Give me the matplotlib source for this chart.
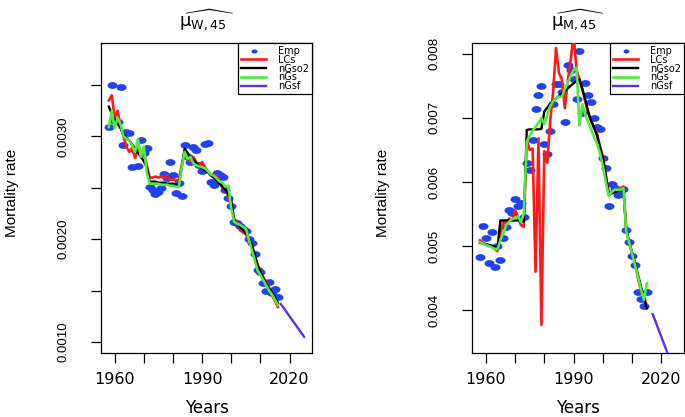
import numpy as np
import matplotlib
matplotlib.use('Agg')
import matplotlib.pyplot as plt
from matplotlib.path import Path

# ---------------- data: women, age 45 ----------------
years_w = list(range(1958, 2017))
emp_w = [0.00309, 0.00350, 0.00315, 0.00314, 0.00348, 0.00292, 0.00304, 0.00303, 0.00270, 0.00287,
         0.00271, 0.00297, 0.00284, 0.00289, 0.00251, 0.00248, 0.00244, 0.00246, 0.00250, 0.00263,
         0.00260, 0.00275, 0.00262, 0.00245, 0.00255, 0.00242, 0.00292, 0.00280, 0.00275, 0.00290,
         0.00287, 0.00272, 0.00266, 0.00293, 0.00294, 0.00256, 0.00253, 0.00264, 0.00262, 0.00261,
         0.00248, 0.00240, 0.00232, 0.00217, 0.00216, 0.00213, 0.00210, 0.00208, 0.00200, 0.00196,
         0.00186, 0.00170, 0.00168, 0.00157, 0.00150, 0.00158, 0.00148, 0.00152, 0.00144]
lcs_w = [0.00335, 0.00340, 0.00318, 0.00325, 0.00310, 0.00300, 0.00290, 0.00285, 0.00289, 0.00279,
         0.00288, 0.00280, 0.00283, 0.00272, 0.00260, 0.00260, 0.00261, 0.00260, 0.00261, 0.00259,
         0.00262, 0.00258, 0.00258, 0.00257, 0.00258, 0.00272, 0.00285, 0.00279, 0.00276, 0.00280,
         0.00275, 0.00272, 0.00275, 0.00270, 0.00266, 0.00263, 0.00260, 0.00262, 0.00256, 0.00250,
         0.00248, 0.00242, 0.00232, 0.00220, 0.00216, 0.00210, 0.00207, 0.00205, 0.00199, 0.00193,
         0.00184, 0.00176, 0.00168, 0.00163, 0.00158, 0.00153, 0.00145, 0.00140, 0.00134]
ngso2_w = [0.00329, 0.00322, 0.00316, 0.00313, 0.00308, 0.00302, 0.00299, 0.00296, 0.00292, 0.00288,
           0.00284, 0.00280, 0.00276, 0.00270, 0.00256, 0.00256, 0.00256, 0.00255, 0.00255, 0.00255,
           0.00254, 0.00254, 0.00254, 0.00253, 0.00253, 0.00270, 0.00288, 0.00284, 0.00280, 0.00277,
           0.00274, 0.00271, 0.00269, 0.00267, 0.00265, 0.00262, 0.00260, 0.00257, 0.00254, 0.00251,
           0.00248, 0.00244, 0.00238, 0.00218, 0.00215, 0.00212, 0.00209, 0.00206, 0.00201, 0.00195,
           0.00186, 0.00175, 0.00168, 0.00162, 0.00157, 0.00152, 0.00148, 0.00143, 0.00138]
ngs_w = [0.00309, 0.00325, 0.00308, 0.00318, 0.00312, 0.00300, 0.00298, 0.00296, 0.00291, 0.00285,
         0.00297, 0.00280, 0.00290, 0.00265, 0.00254, 0.00254, 0.00254, 0.00254, 0.00253, 0.00253,
         0.00253, 0.00252, 0.00252, 0.00251, 0.00251, 0.00270, 0.00285, 0.00278, 0.00280, 0.00274,
         0.00272, 0.00271, 0.00270, 0.00269, 0.00266, 0.00263, 0.00262, 0.00259, 0.00256, 0.00255,
         0.00251, 0.00252, 0.00230, 0.00217, 0.00215, 0.00214, 0.00212, 0.00210, 0.00200, 0.00190,
         0.00180, 0.00170, 0.00165, 0.00160, 0.00155, 0.00150, 0.00146, 0.00141, 0.00136]
years_f_w = list(range(2017, 2026))
ngsf_w = [0.00137, 0.00133, 0.00129, 0.00125, 0.00121, 0.00117, 0.00113, 0.00109, 0.00105]

# ---------------- data: men, age 45 ----------------
years_m = list(range(1958, 2016))
emp_m = [0.00483, 0.00532, 0.00512, 0.00473, 0.00522, 0.00468, 0.00500, 0.00479, 0.00512, 0.00530,
         0.00557, 0.00552, 0.00573, 0.00562, 0.00567, 0.00545, 0.00629, 0.00619, 0.00665, 0.00714,
         0.00736, 0.00749, 0.00659, 0.00644, 0.00679, 0.00722, 0.00753, 0.00752, 0.00740, 0.00693,
         0.00783, 0.00775, 0.00760, 0.00730, 0.00805, 0.00707, 0.00755, 0.00735, 0.00724, 0.00700,
         0.00686, 0.00683, 0.00638, 0.00622, 0.00562, 0.00597, 0.00590, 0.00579, 0.00585, 0.00589,
         0.00525, 0.00507, 0.00484, 0.00470, 0.00429, 0.00417, 0.00406, 0.00429]
lcs_m = [0.00509, 0.00505, 0.00503, 0.00500, 0.00499, 0.00496, 0.00492, 0.00520, 0.00538, 0.00535,
         0.00543, 0.00540, 0.00556, 0.00545, 0.00533, 0.00530, 0.00666, 0.00650, 0.00652, 0.00460,
         0.00668, 0.00377, 0.00648, 0.00630, 0.00694, 0.00740, 0.00809, 0.00770, 0.00760, 0.00715,
         0.00757, 0.00790, 0.00830, 0.00775, 0.00760, 0.00744, 0.00725, 0.00707, 0.00695, 0.00685,
         0.00676, 0.00655, 0.00640, 0.00610, 0.00583, 0.00585, 0.00587, 0.00588, 0.00590, 0.00593,
         0.00525, 0.00505, 0.00488, 0.00473, 0.00450, 0.00430, 0.00419, 0.00408]
ngso2_m = [0.00505, 0.00504, 0.00503, 0.00502, 0.00501, 0.00499, 0.00497, 0.00540, 0.00540, 0.00540,
           0.00540, 0.00540, 0.00540, 0.00540, 0.00540, 0.00538, 0.00681, 0.00682, 0.00682, 0.00682,
           0.00682, 0.00683, 0.00710, 0.00716, 0.00722, 0.00726, 0.00730, 0.00734, 0.00738, 0.00742,
           0.00746, 0.00750, 0.00754, 0.00757, 0.00760, 0.00745, 0.00728, 0.00710, 0.00695, 0.00685,
           0.00672, 0.00655, 0.00637, 0.00610, 0.00580, 0.00582, 0.00584, 0.00586, 0.00588, 0.00585,
           0.00525, 0.00505, 0.00490, 0.00473, 0.00455, 0.00437, 0.00420, 0.00403]
ngs_m = [0.00506, 0.00504, 0.00502, 0.00500, 0.00498, 0.00496, 0.00495, 0.00510, 0.00520, 0.00533,
         0.00538, 0.00542, 0.00544, 0.00546, 0.00538, 0.00550, 0.00663, 0.00672, 0.00680, 0.00686,
         0.00692, 0.00700, 0.00690, 0.00705, 0.00718, 0.00726, 0.00730, 0.00733, 0.00733, 0.00745,
         0.00755, 0.00765, 0.00775, 0.00778, 0.00688, 0.00721, 0.00705, 0.00693, 0.00682, 0.00670,
         0.00660, 0.00645, 0.00625, 0.00600, 0.00578, 0.00584, 0.00588, 0.00588, 0.00588, 0.00590,
         0.00522, 0.00505, 0.00488, 0.00470, 0.00452, 0.00433, 0.00416, 0.00442]
years_f_m = list(range(2017, 2026))
ngsf_m = [0.00394, 0.00382, 0.00370, 0.00358, 0.00346, 0.00334, 0.00322, 0.00310, 0.00298]

x_ticks = [1960, 1970, 1980, 1990, 2000, 2010, 2020]
x_ticklabels = ['1960', '', '', '1990', '', '', '2020']
y_ticks_w = [0.0010, 0.0015, 0.0020, 0.0025, 0.0030, 0.0035]
y_ticklabels_w = ['0.0010', '', '0.0020', '', '0.0030', '']
y_ticks_m = [0.004, 0.005, 0.006, 0.007, 0.008]
y_ticklabels_m = ['0.004', '0.005', '0.006', '0.007', '0.008']

# ---------------- styling ----------------
C_EMP = '#2142ee'
C_LCS = '#ff1a1a'
C_NGSO2 = '#000000'
C_NGS = '#52ea3c'
C_NGSF = '#5b2ef0'

t = np.linspace(0, 2 * np.pi, 48)
ellipse = Path(np.column_stack([np.cos(t), 0.68 * np.sin(t)]), closed=True)

fig = plt.figure(figsize=(6.85, 4.17), dpi=100)
W, H = 685.0, 417.0
ax_l = fig.add_axes([101 / W, 1 - 353 / H, 211 / W, 310 / H])
ax_r = fig.add_axes([472 / W, 1 - 353 / H, 212 / W, 310 / H])

HFONT = 'DejaVu Sans'
VFONT = 'Liberation Sans'


def draw(ax, yrs, emp, lcs, ngso2, ngs, yrs_f, ngsf, ylim, yt, ytl, title, ylab_x):
    ax.plot(yrs, emp, linestyle='none', marker=ellipse, markersize=7.2,
            color=C_EMP, markeredgewidth=0, label='Emp', zorder=2)
    ax.plot(yrs, lcs, color=C_LCS, lw=1.9, label='LCs', zorder=3)
    ax.plot(yrs, ngso2, color=C_NGSO2, lw=1.7, label='nGso2', zorder=4)
    ax.plot(yrs, ngs, color=C_NGS, lw=1.9, label='nGs', zorder=5)
    ax.plot(yrs_f, ngsf, color=C_NGSF, lw=1.7, label='nGsf', zorder=5)
    ax.set_xlim(1955.3, 2027.7)
    ax.set_ylim(*ylim)
    ax.set_xticks(x_ticks)
    ax.set_xticklabels(x_ticklabels, fontsize=11.5, family=HFONT)
    ax.set_yticks(yt)
    ax.set_yticklabels(ytl, fontsize=9.5, family=VFONT, rotation=90, va='center')
    ax.tick_params(axis='x', direction='out', length=7, width=0.9, pad=7)
    ax.tick_params(axis='y', direction='out', length=7.5, width=0.9, pad=15)
    for s in ax.spines.values():
        s.set_linewidth(0.9)
    ax.set_xlabel('Years', fontsize=12, family=HFONT, va='center')
    ax.xaxis.set_label_coords(0.5, -0.178)
    ax.set_ylabel('Mortality rate', fontsize=11, family=VFONT, va='center', ha='center')
    ax.yaxis.set_label_coords(ylab_x, 0.515)
    ax.set_title(title, fontsize=13, pad=12)
    leg = ax.legend(loc='upper right', borderaxespad=0, fancybox=False, framealpha=1,
                    edgecolor='black', prop={'family': HFONT, 'size': 7},
                    labelspacing=-0.12, handlelength=2.6, handletextpad=1.2,
                    borderpad=0.3, markerscale=0.6)
    leg.get_frame().set_linewidth(0.9)


draw(ax_l, years_w, emp_w, lcs_w, ngso2_w, ngs_w, years_f_w, ngsf_w,
     (0.000893, 0.003909), y_ticks_w, y_ticklabels_w,
     r'$\widehat{\mathrm{\mu}_{\mathrm{W,45}}}$', (12 - 101) / 211)
draw(ax_r, years_m, emp_m, lcs_m, ngso2_m, ngs_m, years_f_m, ngsf_m,
     (0.003333, 0.008167), y_ticks_m, y_ticklabels_m,
     r'$\widehat{\mathrm{\mu}_{\mathrm{M,45}}}$', (383 - 472) / 212)

fig.savefig('out.png', dpi=100)
